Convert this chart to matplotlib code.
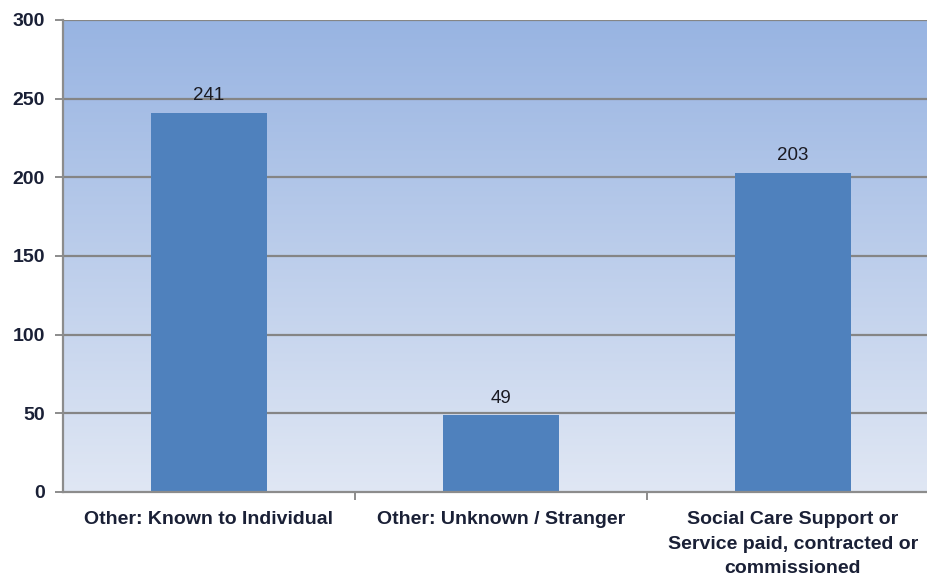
import numpy as np
import matplotlib
matplotlib.use("Agg")
import matplotlib.pyplot as plt
from matplotlib.colors import LinearSegmentedColormap

categories = ["Other: Known to Individual",
              "Other: Unknown / Stranger",
              "Social Care Support or\nService paid, contracted or\ncommissioned"]
values = [241, 49, 203]
y_ticks = [0, 50, 100, 150, 200, 250, 300]

plt.rcParams["font.family"] = ["Liberation Sans", "DejaVu Sans"]

fig = plt.figure(figsize=(9.28, 5.79), dpi=100)
ax = fig.add_axes([63 / 928, 87 / 579, 876 / 928, 472 / 579])

# vertical gradient behind the bars
grad = LinearSegmentedColormap.from_list("bg", ["#E0E7F4", "#98B4E2"])
ax.imshow(np.linspace(0, 1, 256).reshape(-1, 1), cmap=grad, aspect="auto",
          extent=[-0.5, 2.5, 0, 300], origin="lower", zorder=0)

ax.set_xlim(-0.5, 2.5)
ax.set_ylim(0, 300)

for y in y_ticks[1:]:
    ax.axhline(y, color="#858585", lw=1.6, zorder=1)

x = np.arange(len(categories))
bars = ax.bar(x, values, width=0.4, color="#4F81BD", zorder=2)

for b, v in zip(bars, values):
    ax.annotate(str(v), (b.get_x() + b.get_width() / 2, v),
                xytext=(0, 6), textcoords="offset points",
                ha="center", va="bottom", fontsize=13.5, color="#1a1a22")

for s in ["top", "right"]:
    ax.spines[s].set_visible(False)
for s in ["left", "bottom"]:
    ax.spines[s].set_color("#8c8c8c")
    ax.spines[s].set_linewidth(1.6)

ax.set_yticks(y_ticks)
ax.set_yticklabels([str(t) for t in y_ticks], fontsize=14, fontweight="bold",
                   color="#1a2036")
ax.tick_params(axis="y", length=6, width=1.4, color="#8c8c8c", pad=7)

ax.set_xticks(x)
ax.set_xticklabels(categories, fontsize=14, fontweight="bold", color="#1a2036",
                   linespacing=1.55, va="top")
ax.tick_params(axis="x", length=0, pad=14)
ax.set_xticks([0.5, 1.5], minor=True)
ax.tick_params(axis="x", which="minor", length=6, width=1.4, color="#8c8c8c")

fig.savefig("out.png", dpi=100)
